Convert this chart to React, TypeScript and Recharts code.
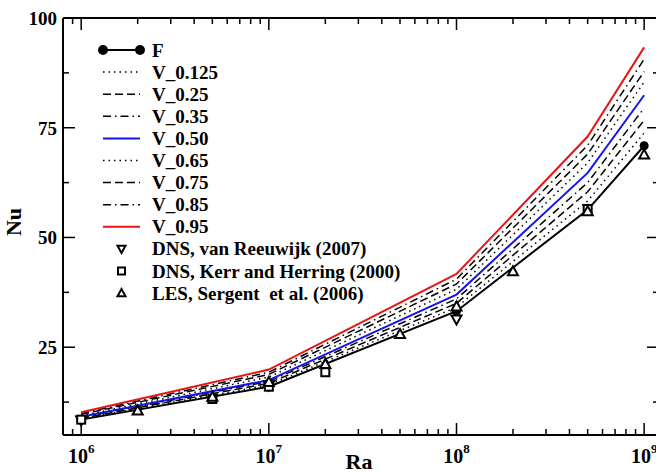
import { ComposedChart, Line, Scatter, XAxis, YAxis } from 'recharts';

const W = 680;
const H = 474;
const FONT = '"Liberation Serif", "Times New Roman", serif';

// model runs: Ra where each curve has a value
const RA_MODEL = [1e6, 1e7, 1e8, 5e8, 1e9];
const NU_F = [8.5, 16.0, 33.2, 56.3, 70.9];
const NU_V0125 = [8.7, 16.4, 34.1, 58.3, 73.8];
const NU_V025 = [8.8, 16.8, 35.0, 60.4, 76.7];
const NU_V035 = [9.0, 17.2, 36.0, 62.5, 79.5];
const NU_V050 = [9.15, 17.5, 37.0, 64.7, 82.4];
const NU_V065 = [9.4, 18.2, 38.2, 67.0, 85.4];
const NU_V075 = [9.7, 18.8, 39.4, 69.0, 87.8];
const NU_V085 = [9.9, 19.3, 40.5, 71.0, 90.6];
const NU_V095 = [10.2, 19.9, 41.7, 73.0, 93.3];

// reference data
const RA_REEUWIJK = [1e6, 1e7, 1e8];
const NU_REEUWIJK = [8.3, 16.3, 31.3];
const RA_KERR = [1e6, 5e6, 1e7, 2e7, 5e8];
const NU_KERR = [8.5, 13.2, 16.0, 19.3, 56.5];
const RA_LES = [2e6, 5e6, 1e7, 2e7, 5e7, 1e8, 2e8, 5e8, 1e9];
const NU_LES = [10.6, 13.7, 17.1, 21.2, 28.0, 34.3, 42.3, 56.0, 68.9];

const X_DECADES = [1e6, 1e7, 1e8, 1e9];
const Y_TICKS = [12.5, 25, 37.5, 50, 62.5, 75, 87.5, 100];
const Y_LABELS = [25, 50, 75, 100];

const LEGEND_LABELS = [
  'F',
  'V_0.125',
  'V_0.25',
  'V_0.35',
  'V_0.50',
  'V_0.65',
  'V_0.75',
  'V_0.85',
  'V_0.95',
  'DNS, van Reeuwijk (2007)',
  'DNS, Kerr and Herring (2000)',
  'LES, Sergent  et al. (2006)',
];

const DOT = '1.5 4';
const DASH = '8 4';
const DASHDOT = '8 4 1.5 4';

type Curve = { key: string; values: number[]; color: string; dash?: string; width: number };

const CURVES: Curve[] = [
  { key: 'F', values: NU_F, color: '#000', width: 2 },
  { key: 'V_0.125', values: NU_V0125, color: '#000', dash: DOT, width: 1.5 },
  { key: 'V_0.25', values: NU_V025, color: '#000', dash: DASH, width: 1.5 },
  { key: 'V_0.35', values: NU_V035, color: '#000', dash: DASHDOT, width: 1.5 },
  { key: 'V_0.50', values: NU_V050, color: '#1515e8', width: 2 },
  { key: 'V_0.65', values: NU_V065, color: '#000', dash: DOT, width: 1.5 },
  { key: 'V_0.75', values: NU_V075, color: '#000', dash: DASH, width: 1.5 },
  { key: 'V_0.85', values: NU_V085, color: '#000', dash: DASHDOT, width: 1.5 },
  { key: 'V_0.95', values: NU_V095, color: '#e81515', width: 2 },
];

const modelData = RA_MODEL.map((ra, i) => {
  const row: Record<string, number> = { ra };
  CURVES.forEach((c) => {
    row[c.key] = c.values[i];
  });
  return row;
});

const toPoints = (ra: number[], nu: number[]) => ra.map((r, i) => ({ ra: r, nu: nu[i] }));
const reeuwijkData = toPoints(RA_REEUWIJK, NU_REEUWIJK);
const kerrData = toPoints(RA_KERR, NU_KERR);
const lesData = toPoints(RA_LES, NU_LES);

const xTicks: number[] = [9e5];
X_DECADES.forEach((d, i) => {
  xTicks.push(d);
  if (i < X_DECADES.length - 1) {
    for (let m = 2; m <= 9; m++) xTicks.push(m * d);
  }
});

const isDecade = (v: number) => X_DECADES.includes(v);

function BottomTick(props: any) {
  const { x, y, payload } = props;
  const major = isDecade(payload.value);
  const exp = Math.round(Math.log10(payload.value));
  return (
    <g>
      <line x1={x} y1={y} x2={x} y2={y - (major ? 12 : 6)} stroke="#000" strokeWidth={1.5} />
      {major && (
        <text
          x={x}
          y={y + 28}
          textAnchor="middle"
          fontFamily={FONT}
          fontWeight="bold"
          fontSize={20}
          fill="#000"
        >
          10
          <tspan dy={-10} fontSize={13}>
            {exp}
          </tspan>
        </text>
      )}
    </g>
  );
}

function TopTick(props: any) {
  const { x, y, payload } = props;
  const major = isDecade(payload.value);
  return <line x1={x} y1={y} x2={x} y2={y + (major ? 12 : 6)} stroke="#000" strokeWidth={1.5} />;
}

function LeftTick(props: any) {
  const { x, y, payload } = props;
  const major = Y_LABELS.includes(payload.value);
  return (
    <g>
      <line x1={x} y1={y} x2={x + (major ? 12 : 6)} y2={y} stroke="#000" strokeWidth={1.5} />
      {major && (
        <text
          x={x - 6}
          y={y + 7}
          textAnchor="end"
          fontFamily={FONT}
          fontWeight="bold"
          fontSize={19}
          fill="#000"
        >
          {payload.value}
        </text>
      )}
    </g>
  );
}

function RightTick(props: any) {
  const { x, y, payload } = props;
  const major = Y_LABELS.includes(payload.value);
  return <line x1={x} y1={y} x2={x - (major ? 12 : 6)} y2={y} stroke="#000" strokeWidth={1.5} />;
}

function DownTriangle({ cx, cy, s = 5 }: { cx: number; cy: number; s?: number }) {
  return (
    <polygon
      points={`${cx - s},${cy - s * 0.8} ${cx + s},${cy - s * 0.8} ${cx},${cy + s}`}
      fill="#fff"
      stroke="#000"
      strokeWidth={2}
    />
  );
}

function UpTriangle({ cx, cy, s = 5 }: { cx: number; cy: number; s?: number }) {
  return (
    <polygon
      points={`${cx - s},${cy + s * 0.8} ${cx + s},${cy + s * 0.8} ${cx},${cy - s}`}
      fill="#fff"
      stroke="#000"
      strokeWidth={2}
    />
  );
}

function Square({ cx, cy, s = 4 }: { cx: number; cy: number; s?: number }) {
  return (
    <rect x={cx - s} y={cy - s} width={2 * s} height={2 * s} fill="#fff" stroke="#000" strokeWidth={2} />
  );
}

function LegendOverlay() {
  const rowY = (i: number) => 50 + i * 22.1;
  const x1 = 103;
  const x2 = 140;
  return (
    <svg
      width={656}
      height={474}
      style={{ position: 'absolute', left: 0, top: 0, pointerEvents: 'none' }}
    >
      {LEGEND_LABELS.map((label, i) => {
        const y = rowY(i);
        let sample = null;
        if (i < CURVES.length) {
          const c = CURVES[i];
          sample = (
            <g>
              <line
                x1={x1}
                y1={y}
                x2={x2}
                y2={y}
                stroke={c.color}
                strokeWidth={c.width}
                strokeDasharray={c.dash}
              />
              {i === 0 && (
                <>
                  <circle cx={x1} cy={y} r={5} fill="#000" />
                  <circle cx={x2} cy={y} r={5} fill="#000" />
                </>
              )}
            </g>
          );
        } else if (i === 9) {
          sample = <DownTriangle cx={121.5} cy={y} s={4} />;
        } else if (i === 10) {
          sample = <Square cx={121.5} cy={y} s={3.5} />;
        } else {
          sample = <UpTriangle cx={121.5} cy={y} s={4} />;
        }
        return (
          <g key={label}>
            {sample}
            <text
              x={152}
              y={y + 6.5}
              fontFamily={FONT}
              fontWeight="bold"
              fontSize={19}
              fill="#000"
              style={{ whiteSpace: 'pre' }}
            >
              {label}
            </text>
          </g>
        );
      })}
      <text x={359} y={469} textAnchor="middle" fontFamily={FONT} fontWeight="bold" fontSize={22}>
        Ra
      </text>
      <text
        x={21}
        y={222}
        textAnchor="middle"
        transform="rotate(-90 21 222)"
        fontFamily={FONT}
        fontWeight="bold"
        fontSize={22}
      >
        Nu
      </text>
    </svg>
  );
}

export default function App() {
  return (
    <div
      style={{
        position: 'absolute',
        left: 0,
        top: 0,
        width: 656,
        height: 474,
        overflow: 'hidden',
        background: '#fff',
      }}
    >
      <ComposedChart
        width={W}
        height={H}
        data={modelData}
        margin={{ top: 0, right: 0, bottom: 0, left: 0 }}
      >
        <XAxis
          dataKey="ra"
          type="number"
          scale="log"
          domain={[8e5, 1.2e9]}
          allowDataOverflow
          ticks={xTicks}
          interval={0}
          height={39}
          tickSize={0}
          tickMargin={0}
          tickLine={false}
          tick={<BottomTick />}
          axisLine={{ stroke: '#000', strokeWidth: 2 }}
        />
        <XAxis
          xAxisId="top"
          orientation="top"
          dataKey="ra"
          type="number"
          scale="log"
          domain={[8e5, 1.2e9]}
          allowDataOverflow
          ticks={xTicks}
          interval={0}
          height={18}
          tickSize={0}
          tickMargin={0}
          tickLine={false}
          tick={<TopTick />}
          axisLine={{ stroke: '#000', strokeWidth: 2 }}
        />
        <YAxis
          type="number"
          domain={[5, 100]}
          allowDataOverflow
          ticks={Y_TICKS}
          interval={0}
          width={63}
          tickSize={0}
          tickMargin={0}
          tickLine={false}
          tick={<LeftTick />}
          axisLine={{ stroke: '#000', strokeWidth: 2 }}
        />
        <YAxis
          yAxisId="right"
          orientation="right"
          type="number"
          domain={[5, 100]}
          allowDataOverflow
          ticks={Y_TICKS}
          interval={0}
          width={21}
          tickSize={0}
          tickMargin={0}
          tickLine={false}
          tick={<RightTick />}
          axisLine={{ stroke: '#000', strokeWidth: 2 }}
        />
        {CURVES.map((c, i) => (
          <Line
            key={c.key}
            dataKey={c.key}
            type="linear"
            stroke={c.color}
            strokeWidth={c.width}
            strokeDasharray={c.dash}
            dot={i === 0 ? { r: 4.5, fill: '#000', stroke: '#000', strokeWidth: 0 } : false}
            activeDot={false}
            isAnimationActive={false}
          />
        ))}
        <Scatter
          data={reeuwijkData}
          dataKey="nu"
          isAnimationActive={false}
          shape={(p: any) => <DownTriangle cx={p.cx} cy={p.cy} />}
        />
        <Scatter
          data={kerrData}
          dataKey="nu"
          isAnimationActive={false}
          shape={(p: any) => <Square cx={p.cx} cy={p.cy} />}
        />
        <Scatter
          data={lesData}
          dataKey="nu"
          isAnimationActive={false}
          shape={(p: any) => <UpTriangle cx={p.cx} cy={p.cy} />}
        />
      </ComposedChart>
      <LegendOverlay />
    </div>
  );
}
